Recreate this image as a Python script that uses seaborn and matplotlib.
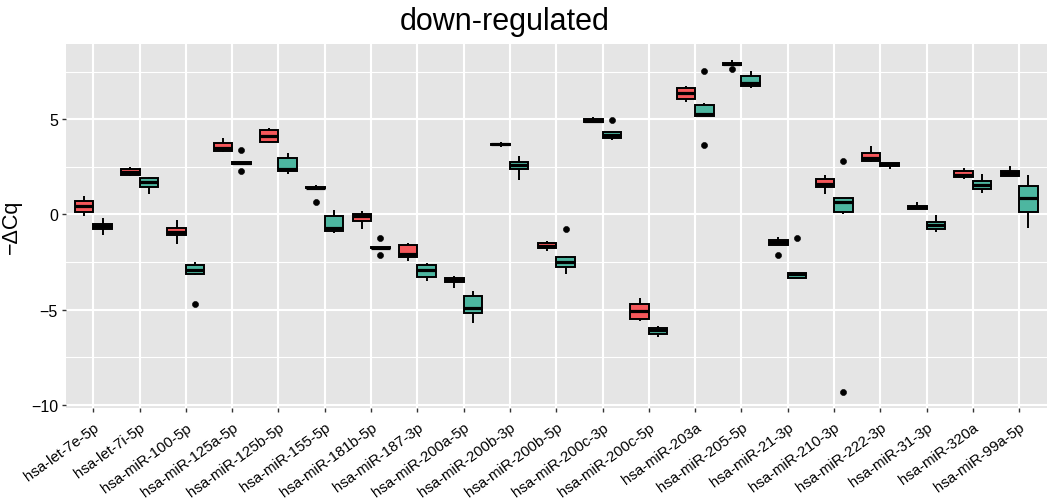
import numpy as np
import pandas as pd
import matplotlib
matplotlib.use("Agg")
import matplotlib.pyplot as plt
from matplotlib.ticker import FixedLocator
import seaborn as sns

# miRNAs on the x axis
mirnas = ["hsa-let-7e-5p", "hsa-let-7i-5p", "hsa-miR-100-5p", "hsa-miR-125a-5p",
          "hsa-miR-125b-5p", "hsa-miR-155-5p", "hsa-miR-181b-5p", "hsa-miR-187-3p",
          "hsa-miR-200a-5p", "hsa-miR-200b-3p", "hsa-miR-200b-5p", "hsa-miR-200c-3p",
          "hsa-miR-200c-5p", "hsa-miR-203a", "hsa-miR-205-5p", "hsa-miR-21-3p",
          "hsa-miR-210-3p", "hsa-miR-222-3p", "hsa-miR-31-3p", "hsa-miR-320a",
          "hsa-miR-99a-5p"]
groups = ["A", "B"]

# -dCq box summaries, group A (whisker ends, quartiles, median, outliers)
a_low  = [-0.10, 2.03, -1.57, 3.26, 3.74, 1.37, -0.77, -2.46, -3.85, 3.55, -1.91,
          4.84, -5.62, 5.91, 7.86, -1.63, 1.07, 2.74, 0.28, 1.88, 2.04]
a_q1   = [0.13, 2.07, -1.10, 3.35, 3.79, 1.37, -0.33, -2.25, -3.56, 3.64, -1.75,
          4.84, -5.50, 6.05, 7.86, -1.63, 1.44, 2.81, 0.28, 1.99, 2.04]
a_med  = [0.43, 2.23, -0.91, 3.49, 4.12, 1.41, -0.08, -2.10, -3.43, 3.68, -1.64,
          4.93, -5.06, 6.36, 7.92, -1.43, 1.58, 2.96, 0.37, 2.07, 2.18]
a_q3   = [0.68, 2.37, -0.73, 3.75, 4.45, 1.46, 0.04, -1.63, -3.34, 3.72, -1.50,
          5.02, -4.69, 6.62, 7.98, -1.36, 1.84, 3.21, 0.46, 2.26, 2.30]
a_high = [0.95, 2.47, -0.31, 4.00, 4.52, 1.57, 0.18, -1.52, -3.24, 3.80, -1.41,
          5.10, -4.41, 6.76, 8.11, -1.17, 2.05, 3.58, 0.64, 2.45, 2.54]
a_out  = [[], [], [], [], [], [0.64], [], [], [], [], [],
          [], [], [], [7.62], [-2.13], [], [], [], [], []]

# -dCq box summaries, group B
b_low  = [-1.10, 1.09, -3.19, 2.67, 2.11, -0.98, -1.79, -3.48, -5.71, 1.81, -3.15,
          3.89, -6.43, 5.17, 6.66, -3.36, 0.04, 2.39, -0.91, 1.12, -0.71]
b_q1   = [-0.76, 1.46, -3.15, 2.67, 2.28, -0.88, -1.79, -3.29, -5.16, 2.37, -2.74,
          4.03, -6.27, 5.17, 6.77, -3.36, 0.13, 2.55, -0.78, 1.34, 0.11]
b_med  = [-0.63, 1.70, -2.90, 2.70, 2.40, -0.72, -1.75, -2.94, -4.90, 2.61, -2.48,
          4.17, -6.09, 5.30, 6.89, -3.15, 0.64, 2.63, -0.54, 1.56, 0.88]
b_q3   = [-0.52, 1.92, -2.68, 2.73, 2.96, -0.07, -1.71, -2.66, -4.31, 2.77, -2.22,
          4.33, -5.98, 5.74, 7.27, -3.07, 0.88, 2.70, -0.40, 1.77, 1.49]
b_high = [-0.20, 1.96, -2.52, 2.73, 3.23, 0.25, -1.71, -2.55, -4.04, 3.05, -2.17,
          4.35, -5.85, 5.84, 7.52, -3.07, 0.88, 2.70, -0.03, 2.11, 2.05]
b_out  = [[], [], [-4.71], [2.30, 3.38], [], [], [-2.13, -1.22], [], [], [], [-0.78],
          [4.98], [], [3.65, 7.52], [], [-1.26], [-9.32, 2.79], [], [], [], []]

palette = ["#F5575A", "#4DB6A0"]


def sample_from_summary(lo, q1, med, q3, hi, outs, m=3):
    """13 observations whose linear quartiles and 1.5*IQR whiskers equal the summary."""
    below = sorted(o for o in outs if o < q1)
    above = sorted(o for o in outs if o > q3)
    return (below + [lo] * (m - len(below)) + [q1] + [med] * m + [q3] * m
            + [hi] * (m - len(above)) + above)


rows = []
for grp, lo_, q1_, md_, q3_, hi_, out_ in [
        ("A", a_low, a_q1, a_med, a_q3, a_high, a_out),
        ("B", b_low, b_q1, b_med, b_q3, b_high, b_out)]:
    for i, name in enumerate(mirnas):
        for v in sample_from_summary(lo_[i], q1_[i], md_[i], q3_[i], hi_[i], out_[i]):
            rows.append((name, grp, v))
df = pd.DataFrame(rows, columns=["mirna", "group", "dcq"])

plt.rcParams["font.family"] = ["Liberation Sans", "DejaVu Sans"]
W, H = 1049, 502
fig = plt.figure(figsize=(W / 100, H / 100), dpi=100)
ax = fig.add_axes([65.5 / W, (H - 409.3) / H, (1047 - 65.5) / W, (409.3 - 44.5) / H])
ax.set_facecolor("#E5E5E5")

sns.boxplot(data=df, x="mirna", y="dcq", hue="group", order=mirnas, hue_order=groups,
            palette=palette, saturation=1, width=0.8, gap=0, linecolor="black",
            linewidth=1.4, fliersize=4.4, showcaps=False, legend=False, ax=ax,
            medianprops=dict(linewidth=2.3, solid_capstyle="butt"),
            flierprops=dict(marker="o", markerfacecolor="black",
                            markeredgecolor="black", markeredgewidth=0.4))

# axis range with a 5% margin around the data
lo, hi = df["dcq"].min(), df["dcq"].max()
pad = 0.05 * (hi - lo)
ax.set_ylim(lo - pad, hi + pad)
ax.set_xlim(-0.6, len(mirnas) - 0.4)

ax.yaxis.set_major_locator(FixedLocator([-10, -5, 0, 5]))
ax.yaxis.set_minor_locator(FixedLocator([-7.5, -2.5, 2.5, 7.5]))
ax.set_axisbelow(True)
ax.grid(which="major", color="white", linewidth=1.5)
ax.grid(which="minor", axis="y", color="white", linewidth=0.8)
for s in ax.spines.values():
    s.set_visible(False)

ax.tick_params(axis="both", which="major", length=2.9, width=1.0, color="#333333",
               labelcolor="black")
ax.tick_params(axis="y", which="major", pad=2.5, labelsize=11.5)
ax.tick_params(axis="x", which="major", pad=5.5, labelsize=10.8)
ax.tick_params(which="minor", length=0)
ax.set_xticks(range(len(mirnas)))
ax.set_xticklabels(mirnas, rotation=36, ha="right", va="top",
                   rotation_mode="anchor")

ax.set_xlabel("")
ax.set_ylabel("\u2212\u0394Cq", fontsize=15.5, color="black")
ax.yaxis.set_label_coords(-0.0443, 0.5)

fig.text(505 / W, 1 - 30 / H, "down-regulated", ha="center", va="baseline",
         fontsize=22, color="black")

fig.savefig("out.png", dpi=100, facecolor="white")
